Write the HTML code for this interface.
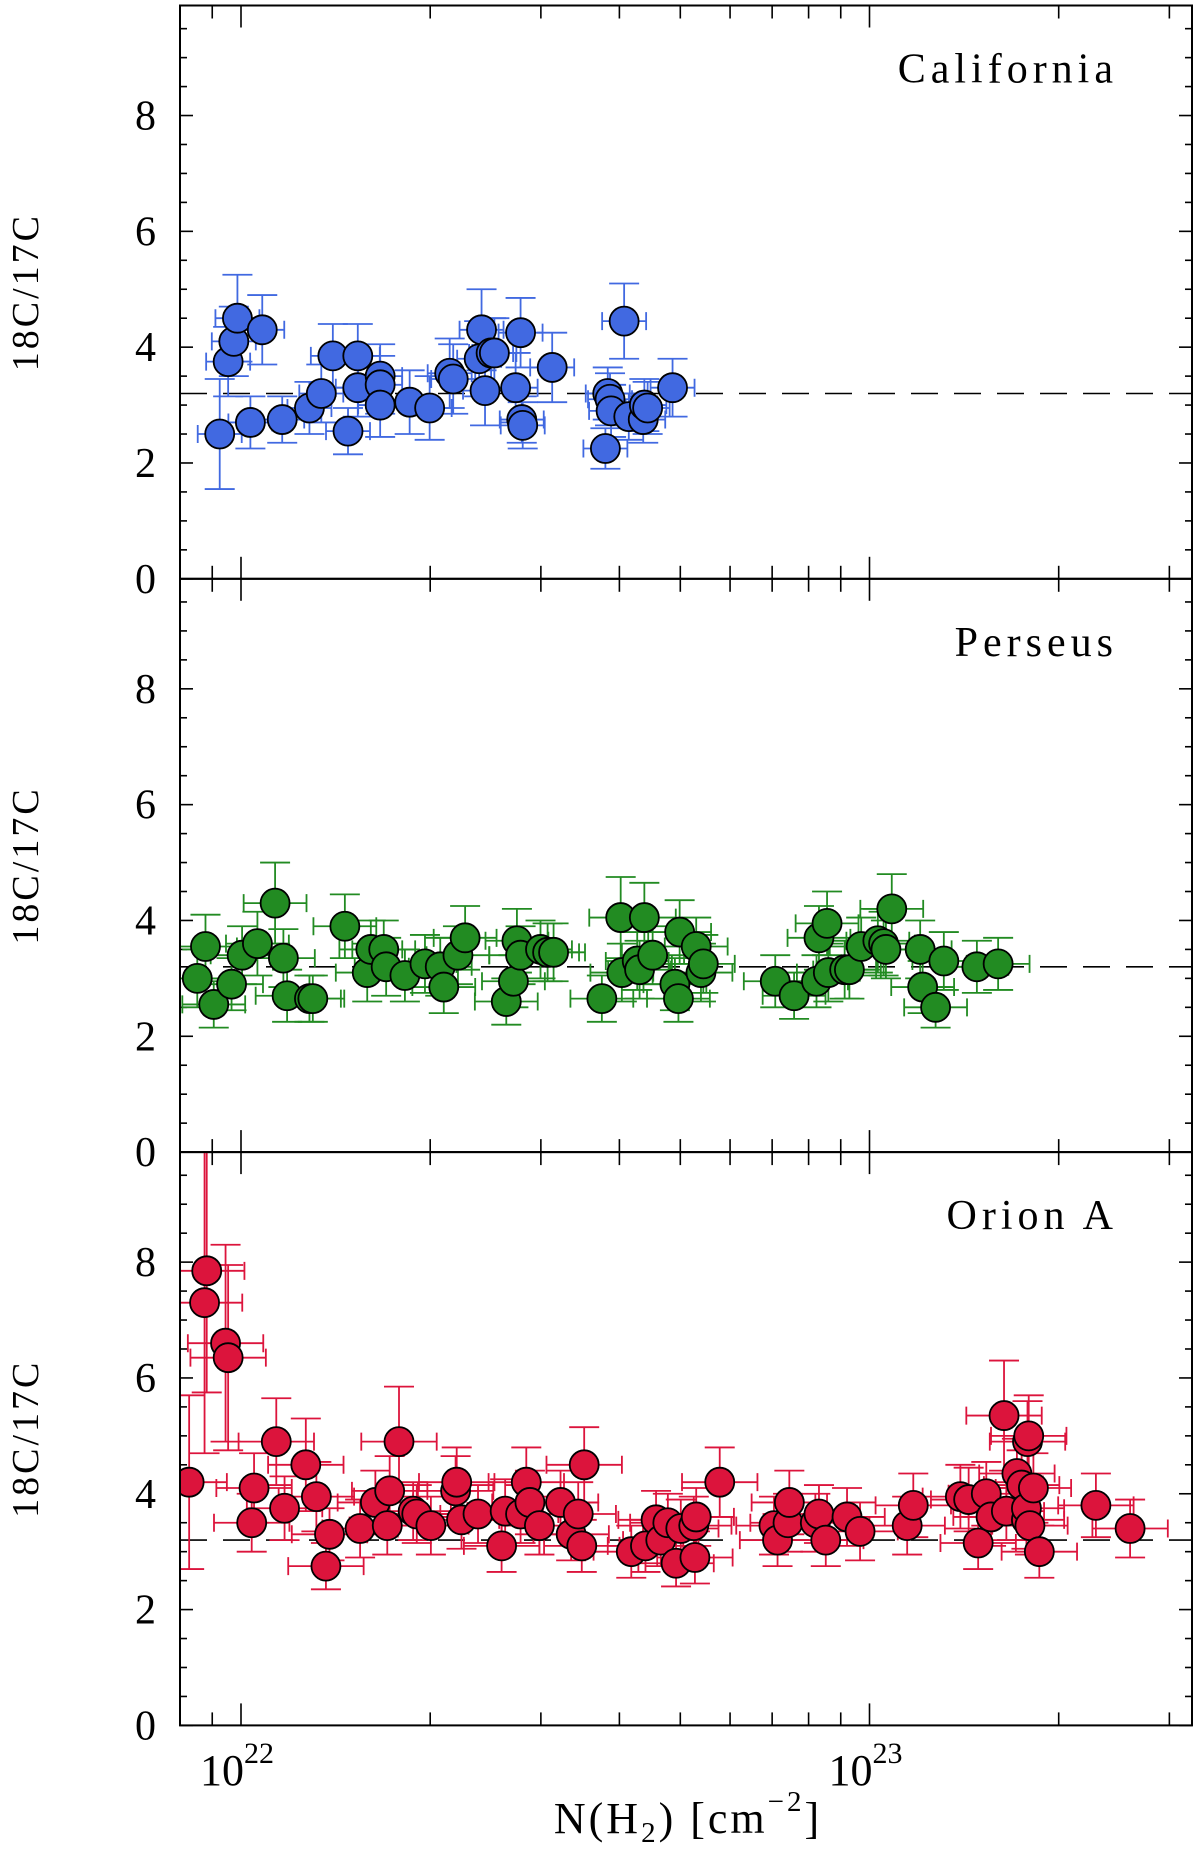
<!DOCTYPE html>
<html><head><meta charset="utf-8">
<style>
html,body{margin:0;padding:0;background:#fff;}
svg{display:block;}
text{font-family:"Liberation Serif","DejaVu Serif",serif;fill:#000;}
</style></head>
<body>
<svg id="chart" width="1200" height="1849" viewBox="0 0 1200 1849" xmlns="http://www.w3.org/2000/svg">
<text x="688" y="1833" font-size="44" text-anchor="middle" letter-spacing="3">N(H<tspan font-size="29" dy="9">2</tspan><tspan dy="-9">) [cm</tspan><tspan font-size="29" dy="-22">−2</tspan><tspan dy="22">]</tspan></text>
</svg>
<script>
// x values in units of 1e22 cm^-2, y = ratio
const calX=[0.925,0.954,0.974,0.987,1.035,1.081,1.163,1.285,1.342,1.40,1.48,1.534,1.534,1.665,1.665,1.665,1.855,1.996,2.148,2.176,2.393,2.414,2.445,2.50,2.53,2.735,2.785,2.797,2.807,3.127,3.80,3.833,3.865,3.88,4.07,4.14,4.365,4.383,4.436,4.86];
const calY=[2.5,3.75,4.1,4.5,2.7,4.3,2.75,2.95,3.2,3.85,2.55,3.85,3.3,3.5,3.35,3.0,3.05,2.95,3.55,3.45,3.8,4.3,3.25,3.9,3.9,3.3,4.25,2.75,2.65,3.65,2.25,3.2,3.1,2.9,4.45,2.8,2.75,3.0,2.95,3.3];
const calErr=[0.95,0.6,0.6,0.75,0.45,0.6,0.4,0.45,0.5,0.55,0.4,0.55,0.5,0.55,0.5,0.55,0.55,0.55,0.6,0.6,0.65,0.7,0.6,0.6,0.6,0.6,0.6,0.4,0.4,0.6,0.35,0.45,0.45,0.45,0.65,0.4,0.4,0.45,0.45,0.5];
const perX=[0.852,0.878,0.905,0.966,1.004,1.062,1.133,1.168,1.184,1.285,1.301,1.463,1.588,1.609,1.687,1.702,1.823,1.962,2.075,2.102,2.214,2.273,2.643,2.713,2.748,2.785,2.996,3.075,3.143,3.751,4.019,4.036,4.27,4.307,4.383,4.518,4.902,4.966,4.988,5.30,5.393,5.44,7.08,7.586,8.235,8.31,8.56,8.60,9.13,9.29,9.70,10.31,10.53,10.62,10.85,12.04,12.15,12.74,13.13,14.82,16.02];
const perY=[3.0,3.55,2.55,2.9,3.4,3.6,4.3,3.35,2.7,2.65,2.65,3.9,3.1,3.5,3.5,3.2,3.05,3.25,3.2,2.85,3.4,3.7,2.6,2.95,3.65,3.4,3.5,3.45,3.45,2.65,4.05,3.1,3.3,3.15,4.05,3.4,2.9,2.65,3.8,3.55,3.1,3.25,2.95,2.7,2.95,3.7,3.95,3.1,3.15,3.15,3.55,3.65,3.6,3.5,4.2,3.5,2.85,2.5,3.3,3.2,3.25];
const perErr=[0.5,0.55,0.4,0.45,0.5,0.55,0.7,0.5,0.45,0.4,0.4,0.55,0.5,0.5,0.5,0.5,0.45,0.5,0.5,0.45,0.5,0.55,0.4,0.45,0.55,0.5,0.5,0.5,0.5,0.4,0.7,0.5,0.5,0.5,0.6,0.5,0.45,0.4,0.55,0.5,0.5,0.5,0.45,0.4,0.45,0.55,0.55,0.5,0.5,0.5,0.5,0.55,0.55,0.5,0.6,0.5,0.45,0.35,0.5,0.45,0.45];
const oriX=[0.827,0.882,0.875,0.945,0.954,1.040,1.049,1.138,1.173,1.268,1.318,1.365,1.383,1.547,1.636,1.709,1.724,1.784,1.879,1.904,2.005,2.195,2.204,2.243,2.383,2.598,2.632,2.785,2.844,2.882,2.984,3.224,3.352,3.44,3.485,3.516,4.178,4.401,4.575,4.655,4.777,4.923,5.009,5.253,5.275,5.30,5.777,7.047,7.14,7.42,7.455,8.20,8.31,8.52,9.21,9.66,11.48,11.74,13.95,14.38,14.89,15.34,15.61,16.37,16.51,17.16,17.46,17.77,17.77,17.84,17.92,18.00,18.23,18.63,22.92,25.98];
const oriY=[4.2,7.85,7.3,6.6,6.35,3.5,4.1,4.9,3.75,4.5,3.95,2.75,3.3,3.4,3.85,3.45,4.05,4.9,3.7,3.65,3.45,4.05,4.2,3.55,3.65,3.1,3.7,3.65,4.2,3.85,3.45,3.85,3.3,3.65,3.1,4.5,3.0,3.1,3.55,3.2,3.5,2.8,3.4,3.45,2.9,3.6,4.2,3.45,3.2,3.5,3.85,3.5,3.65,3.2,3.6,3.35,3.45,3.8,3.95,3.9,3.15,4.0,3.6,5.35,3.7,4.35,4.15,3.55,3.75,4.9,5.0,3.45,4.1,3.0,3.8,3.4];
const oriErr=[1.5,2.1,2.6,1.7,1.6,0.5,0.6,0.75,0.55,0.8,0.6,0.4,0.45,0.5,0.55,0.5,0.6,0.95,0.5,0.5,0.5,0.6,0.6,0.5,0.5,0.45,0.55,0.5,0.6,0.55,0.5,0.55,0.45,0.55,0.45,0.65,0.45,0.45,0.5,0.45,0.5,0.4,0.5,0.5,0.45,0.5,0.6,0.5,0.45,0.5,0.55,0.5,0.5,0.45,0.5,0.5,0.5,0.55,0.55,0.55,0.45,0.55,0.5,0.95,0.5,0.6,0.6,0.5,0.55,0.7,0.7,0.5,0.6,0.45,0.55,0.5];
const yTicks=[0,2,4,6,8];
const refLine=3.2;

const NS='http://www.w3.org/2000/svg';
const svg=document.getElementById('chart');
const L=180,R=1192,D22=241,DEC=628.5;
const panelTops=[5.5,578.8,1152.1],PH=573.3,YMAX=9.9;
function xPos(v){return D22+Math.log10(v)*DEC;}
function mk(tag,attrs,parent){const e=document.createElementNS(NS,tag);for(const k in attrs)e.setAttribute(k,attrs[k]);(parent||svg).appendChild(e);return e;}

const panels=[
 {name:'california',title:'California',x:calX,y:calY,e:calErr,col:'#4169e1',xe:0.035},
 {name:'perseus',title:'Perseus',x:perX,y:perY,e:perErr,col:'#228b22',xe:0.05},
 {name:'orion-a',title:'Orion A',x:oriX,y:oriY,e:oriErr,col:'#dc143c',xe:0.06}
];
panels.forEach((p,pi)=>{
 const top=panelTops[pi],bot=top+PH;
 const yPos=v=>bot-v/YMAX*PH;
 const g=mk('g',{});
 
 
 const cid='clip'+pi;
 const cp=mk('clipPath',{id:cid},g);mk('rect',{x:L,y:top,width:R-L,height:PH},cp);
 for(let v=0;v<=YMAX+0.001;v+=0.5){
  const major=Math.abs(v-Math.round(v/2)*2)<0.01;const len=major?13:7;const y=yPos(v);
  const t1=mk('line',{x1:L,y1:y,x2:L+len,y2:y,stroke:'#000','stroke-width':1.6},g);
  
  const t2=mk('line',{x1:R,y1:y,x2:R-len,y2:y,stroke:'#000','stroke-width':1.6},g);
  
 }
 yTicks.forEach(v=>{
  const t=mk('text',{x:156,y:yPos(v)+14,'font-size':42,'text-anchor':'end'},g);t.textContent=v;
  
 });
 for(let d=21;d<=23;d++)for(let m=1;m<=9;m++){
  const v=m*Math.pow(10,d-22);const x=xPos(v);if(x<L+1||x>R-1)continue;
  const len=m===1?22:13;
  const a=mk('line',{x1:x,y1:bot,x2:x,y2:bot-len,stroke:'#000','stroke-width':1.6},g);
  
  const b=mk('line',{x1:x,y1:top,x2:x,y2:top+len,stroke:'#000','stroke-width':1.6},g);
  
 }
 const yl=mk('text',{x:0,y:0,'font-size':38,'text-anchor':'middle','letter-spacing':3,transform:`translate(38,${top+PH/2}) rotate(-90)`},g);
 yl.textContent='18C/17C';
 
 const tt=mk('text',{x:1118,y:top+77,'font-size':42,'text-anchor':'end','letter-spacing':5},g);
 tt.textContent=p.title;
 
 const rl=mk('line',{x1:L,y1:yPos(refLine),x2:R,y2:yPos(refLine),stroke:'#000','stroke-width':1.6,'stroke-dasharray':'27,16'},g);
 
 const dg=mk('g',{'clip-path':`url(#${cid})`},g);
 p.x.forEach((xv,i)=>{
  const cx=xPos(xv),cy=yPos(p.y[i]),e=p.e[i];
  const xl=xPos(xv*Math.pow(10,-p.xe)),xr=xPos(xv*Math.pow(10,p.xe));
  const y1=yPos(p.y[i]+e),y2=yPos(p.y[i]-e);
  const eb=mk('path',{d:`M${cx},${y1}V${y2}M${cx-15},${y1}H${cx+15}M${cx-15},${y2}H${cx+15}M${xl},${cy}H${xr}M${xl},${cy-9}V${cy+9}M${xr},${cy-9}V${cy+9}`,stroke:p.col,'stroke-width':1.8,fill:'none'},dg);
  
 });
 p.x.forEach((xv,i)=>{
  const c=mk('circle',{cx:xPos(xv),cy:yPos(p.y[i]),r:14.5,fill:p.col,stroke:'#000','stroke-width':1.8},dg);
  
 });
 const fr=mk('rect',{x:L,y:top,width:R-L,height:PH,fill:'none',stroke:'#000','stroke-width':2},g);
 
});
[[22,D22],[23,D22+DEC]].forEach(([ex,x])=>{
 const t=mk('text',{x:x-4,y:1785,'font-size':44,'text-anchor':'middle'});
 t.innerHTML='10<tspan font-size="30" dy="-22">'+ex+'</tspan>';
 
});
</script>
</body></html>
